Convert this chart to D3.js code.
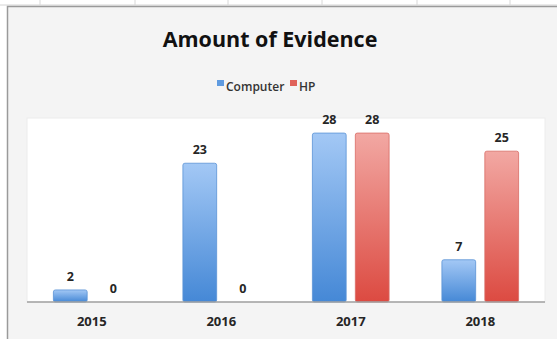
<!DOCTYPE html>
<html>
<head>
<meta charset="utf-8">
<script src="https://cdn.jsdelivr.net/npm/d3@7/dist/d3.min.js"></script>
<style>
  html, body { margin: 0; padding: 0; background: #ffffff; }
  svg { display: block; }
</style>
</head>
<body>
<div id="chart"></div>
<script>
const years = ['2015', '2016', '2017', '2018'];
const seriesNames = ['Computer', 'HP'];
const computerValues = [2, 23, 28, 7];
const hpValues = [0, 0, 28, 25];

const width = 557, height = 339;
const plot = { left: 27, right: 545, top: 118, bottom: 302 };
const colors = {
  Computer: { top: '#a3c8f5', bottom: '#4588d6', stroke: '#5b93d6', key: '#5f9be0' },
  HP: { top: '#f2a8a3', bottom: '#dc4a41', stroke: '#d86b64', key: '#e0625a' }
};

const data = years.map((y, i) => ({ year: y, Computer: computerValues[i], HP: hpValues[i] }));

const svg = d3.select('#chart').append('svg')
  .attr('width', width)
  .attr('height', height);

const defs = svg.append('defs');
seriesNames.forEach(name => {
  const g = defs.append('linearGradient')
    .attr('id', 'grad-' + name)
    .attr('x1', 0).attr('y1', 0).attr('x2', 0).attr('y2', 1);
  g.append('stop').attr('offset', '0%').attr('stop-color', colors[name].top);
  g.append('stop').attr('offset', '100%').attr('stop-color', colors[name].bottom);
});

// spreadsheet strip behind the chart
svg.append('rect').attr('width', width).attr('height', height).attr('fill', '#ffffff');
svg.append('line')
  .attr('x1', 0).attr('x2', width).attr('y1', 5).attr('y2', 5)
  .attr('stroke', '#d4d4d4').attr('stroke-width', 1);
[40, 135, 228, 322, 417, 510].forEach(x => {
  svg.append('line')
    .attr('x1', x).attr('x2', x).attr('y1', 0).attr('y2', 5)
    .attr('stroke', '#d8d8d8');
});

// chart area
svg.append('rect')
  .attr('x', 7.5).attr('y', 6.5)
  .attr('width', width + 10).attr('height', height + 10)
  .attr('fill', '#f4f4f4')
  .attr('stroke', '#9a9a9a')
  .attr('stroke-width', 1.5);

// plot area
svg.append('rect')
  .attr('x', plot.left).attr('y', plot.top)
  .attr('width', plot.right - plot.left).attr('height', plot.bottom - plot.top)
  .attr('fill', '#ffffff')
  .attr('stroke', '#ececec');

const x0 = d3.scaleBand()
  .domain(years)
  .range([plot.left, plot.right])
  .paddingInner(0.4)
  .paddingOuter(0.2);

const x1 = d3.scaleBand()
  .domain(seriesNames)
  .range([0, x0.bandwidth()])
  .paddingInner(0.19);

const y = d3.scaleLinear()
  .domain([0, 30])
  .range([plot.bottom, plot.bottom - 181]);

const groups = svg.append('g').selectAll('g')
  .data(data)
  .enter().append('g')
  .attr('transform', d => `translate(${x0(d.year)},0)`);

groups.selectAll('rect')
  .data(d => seriesNames.map(name => ({ name: name, value: d[name] })))
  .enter().append('rect')
  .filter(d => d.value > 0)
  .attr('x', d => x1(d.name) + 0.5)
  .attr('y', d => y(d.value))
  .attr('width', x1.bandwidth() - 1)
  .attr('height', d => y(0) - y(d.value))
  .attr('rx', 2)
  .attr('fill', d => `url(#grad-${d.name})`)
  .attr('stroke', d => colors[d.name].stroke)
  .attr('stroke-width', 0.8);

groups.selectAll('text.label')
  .data(d => seriesNames.map(name => ({ name: name, value: d[name] })))
  .enter().append('text')
  .attr('class', 'label')
  .attr('x', d => x1(d.name) + x1.bandwidth() / 2)
  .attr('y', d => y(d.value) - 9)
  .attr('text-anchor', 'middle')
  .attr('font-family', 'Open Sans, sans-serif')
  .attr('font-weight', 'bold')
  .attr('font-size', '12.5px')
  .attr('fill', '#262626')
  .text(d => d.value);

// category axis
const xAxis = svg.append('g')
  .attr('transform', `translate(0,${plot.bottom})`)
  .call(d3.axisBottom(x0).tickSize(0).tickPadding(15));
xAxis.select('.domain')
  .attr('d', `M${plot.left},0H${plot.right}`)
  .attr('stroke', '#a0a0a0')
  .attr('stroke-width', 1.5);
xAxis.selectAll('text')
  .attr('font-family', 'Open Sans, sans-serif')
  .attr('font-weight', 'bold')
  .attr('font-size', '13px')
  .attr('fill', '#262626');

// title
svg.append('text')
  .attr('x', 270)
  .attr('y', 47)
  .attr('text-anchor', 'middle')
  .attr('font-family', 'Open Sans, sans-serif')
  .attr('font-weight', 'bold')
  .attr('font-size', '21.5px')
  .attr('fill', '#111111')
  .text('Amount of Evidence');

// legend
const legendX = [217, 290];
const legend = svg.append('g');
seriesNames.forEach((name, i) => {
  legend.append('rect')
    .attr('x', legendX[i]).attr('y', 80)
    .attr('width', 7).attr('height', 6)
    .attr('fill', colors[name].key);
  legend.append('text')
    .attr('x', legendX[i] + 9).attr('y', 91)
    .attr('font-family', 'Open Sans, sans-serif')
    .attr('font-weight', 600)
    .attr('font-size', '12px')
    .attr('fill', '#333333')
    .text(name);
});
</script>
</body>
</html>
